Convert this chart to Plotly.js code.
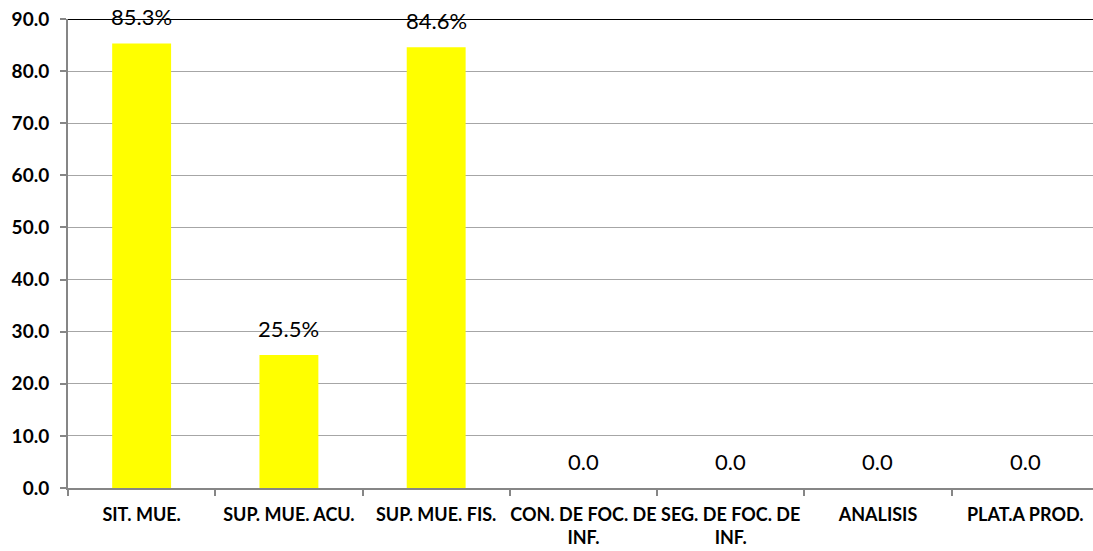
<!DOCTYPE html>
<html>
<head>
<meta charset="utf-8">
<script src="https://cdn.plot.ly/plotly-3.0.1.min.js"></script>
<style>html,body{margin:0;padding:0;background:#fff;}#chart{width:1093px;height:551px;}</style>
</head>
<body>
<div id="chart"></div>
<script>
const categories = ["SIT. MUE.", "SUP. MUE. ACU.", "SUP. MUE. FIS.", "CON. DE FOC. DE<br>INF.", "SEG. DE FOC. DE<br>INF.", "ANALISIS", "PLAT.A PROD."];
const values = [85.3, 25.5, 84.6, 0, 0, 0, 0];
const yTicks = [0, 10, 20, 30, 40, 50, 60, 70, 80, 90];

const labels = values.map(v => v > 0 ? v.toFixed(1) + '%' : v.toFixed(1));

const trace = {
  type: 'bar',
  x: categories,
  y: values,
  width: 0.4,
  marker: {color: '#FFFF00'},
  hoverinfo: 'none'
};

const annotations = categories.map((c, i) => ({
  x: c, y: values[i], xref: 'x', yref: 'y',
  text: labels[i], showarrow: false,
  yanchor: 'bottom', yshift: 11,
  font: {family: 'Lato, sans-serif', size: 22, color: '#000'}
}));

const layout = {
  width: 1093, height: 551,
  margin: {l: 68, r: 0, t: 19, b: 63, pad: 0},
  paper_bgcolor: '#fff', plot_bgcolor: '#fff',
  showlegend: false,
  xaxis: {
    type: 'category',
    range: [-0.5, 6.46],
    tickson: 'boundaries',
    tickangle: 0,
    ticks: 'outside', ticklen: 6, tickwidth: 2, tickcolor: '#868686',
    ticklabelstandoff: 9,
    showline: true, linecolor: '#868686', linewidth: 2,
    showgrid: false,
    tickfont: {family: 'Lato, sans-serif', size: 18, color: '#000', weight: 'bold'},
    fixedrange: true
  },
  yaxis: {
    range: [0, 90],
    tickvals: yTicks,
    tickformat: '.1f',
    ticks: 'outside', ticklen: 6, tickwidth: 2, tickcolor: '#868686',
    ticklabelstandoff: 7,
    showline: true, linecolor: '#868686', linewidth: 2,
    showgrid: true, gridcolor: '#a6a6a6', gridwidth: 1,
    zeroline: false,
    tickfont: {family: 'Lato, sans-serif', size: 19, color: '#000', weight: 'bold'},
    fixedrange: true
  },
  shapes: [{
    type: 'line', xref: 'paper', yref: 'y', x0: 0, x1: 1, y0: 90, y1: 90,
    line: {color: '#000', width: 2}, layer: 'above'
  }],
  annotations: annotations
};

Plotly.newPlot('chart', [trace], layout, {displayModeBar: false, staticPlot: true});
</script>
</body>
</html>
